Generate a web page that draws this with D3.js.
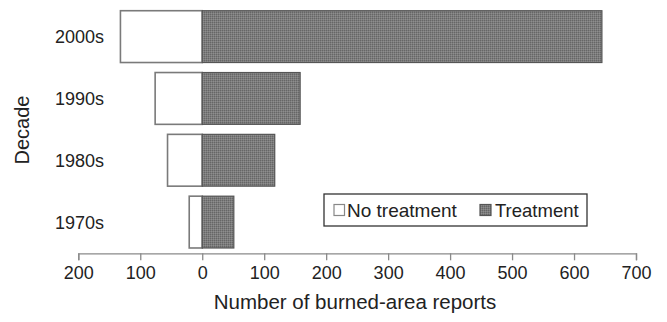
<!DOCTYPE html>
<html><head><meta charset="utf-8">
<script src="https://cdn.jsdelivr.net/npm/d3@7"></script>
<style>body{margin:0;background:#fff}svg{display:block;font-family:"Liberation Sans",Arial,sans-serif}</style>
</head><body><svg id="c" width="667" height="322"></svg>
<script>
const decades = ["2000s","1990s","1980s","1970s"];
const noTreatment = [132, 76, 56, 21];
const treatment = [645, 158, 117, 51];
const tickValues = [-200,-100,0,100,200,300,400,500,600,700];
const tickLabels = ["200","100","0","100","200","300","400","500","600","700"];
const legendLabels = ["No treatment","Treatment"];

const svg = d3.select("#c");
const defs = svg.append("defs");
const pat = defs.append("pattern").attr("id","dots").attr("width",2).attr("height",2).attr("patternUnits","userSpaceOnUse");
pat.append("rect").attr("width",2).attr("height",2).attr("fill","#7c7c7c");
pat.append("rect").attr("width",1).attr("height",1).attr("fill","#666");
pat.append("rect").attr("x",1).attr("y",1).attr("width",1).attr("height",1).attr("fill","#8e8e8e");

const x = d3.scaleLinear().domain([-200,700]).range([78.3,636]);
const y = d3.scaleBand().domain(decades).range([5.4,253.3]).paddingInner(0.162).paddingOuter(0.086);

const g = svg.append("g");
g.selectAll("rect.nt").data(decades).join("rect").attr("class","nt")
  .attr("x",(d,i)=>x(-noTreatment[i])).attr("y",d=>y(d))
  .attr("width",(d,i)=>x(0)-x(-noTreatment[i])).attr("height",y.bandwidth())
  .attr("fill","#fff").attr("stroke","#7a7a7a").attr("stroke-width",1.6);
g.selectAll("rect.t").data(decades).join("rect").attr("class","t")
  .attr("x",x(0)).attr("y",d=>y(d))
  .attr("width",(d,i)=>x(treatment[i])-x(0)).attr("height",y.bandwidth())
  .attr("fill","url(#dots)").attr("stroke","#555").attr("stroke-width",1.2);

g.selectAll("text.cat").data(decades).join("text").attr("class","cat")
  .attr("x",104).attr("y",d=>y(d)+y.bandwidth()/2).attr("dy","0.36em")
  .attr("text-anchor","end").attr("font-size",18).attr("fill","#222").text(d=>d);

const axis = d3.axisBottom(x).tickValues(tickValues).tickFormat((d,i)=>tickLabels[i]).tickSizeOuter(0).tickSize(7).tickPadding(6);
const ax = svg.append("g").attr("transform","translate(0,253.3)").call(axis);
ax.select(".domain").attr("stroke","#8a8a8a").attr("stroke-width",1.3);
ax.selectAll(".tick line").attr("stroke","#8a8a8a").attr("stroke-width",1.3);
ax.selectAll(".tick text").attr("font-size",18).attr("fill","#222").attr("font-family","Liberation Sans, Arial, sans-serif");

svg.append("text").attr("x",355).attr("y",309).attr("text-anchor","middle").attr("font-size",20.5).attr("fill","#222").text("Number of burned-area reports");
svg.append("text").attr("transform","translate(29,130) rotate(-90)").attr("text-anchor","middle").attr("font-size",20).attr("fill","#222").text("Decade");

const lg = svg.append("g");
lg.append("rect").attr("x",324).attr("y",194).attr("width",263).attr("height",32).attr("fill","#fff").attr("stroke","#333").attr("stroke-width",1.3);
lg.append("rect").attr("x",334).attr("y",204.5).attr("width",10.5).attr("height",11).attr("fill","#fff").attr("stroke","#888").attr("stroke-width",1.2);
lg.append("text").attr("x",347).attr("y",210).attr("dy","0.36em").attr("font-size",19).attr("fill","#222").text(legendLabels[0]);
lg.append("rect").attr("x",480).attr("y",204.5).attr("width",11).attr("height",11).attr("fill","url(#dots)").attr("stroke","#555").attr("stroke-width",1.2);
lg.append("text").attr("x",495).attr("y",210).attr("dy","0.36em").attr("font-size",18.5).attr("fill","#222").text(legendLabels[1]);
</script></body></html>
